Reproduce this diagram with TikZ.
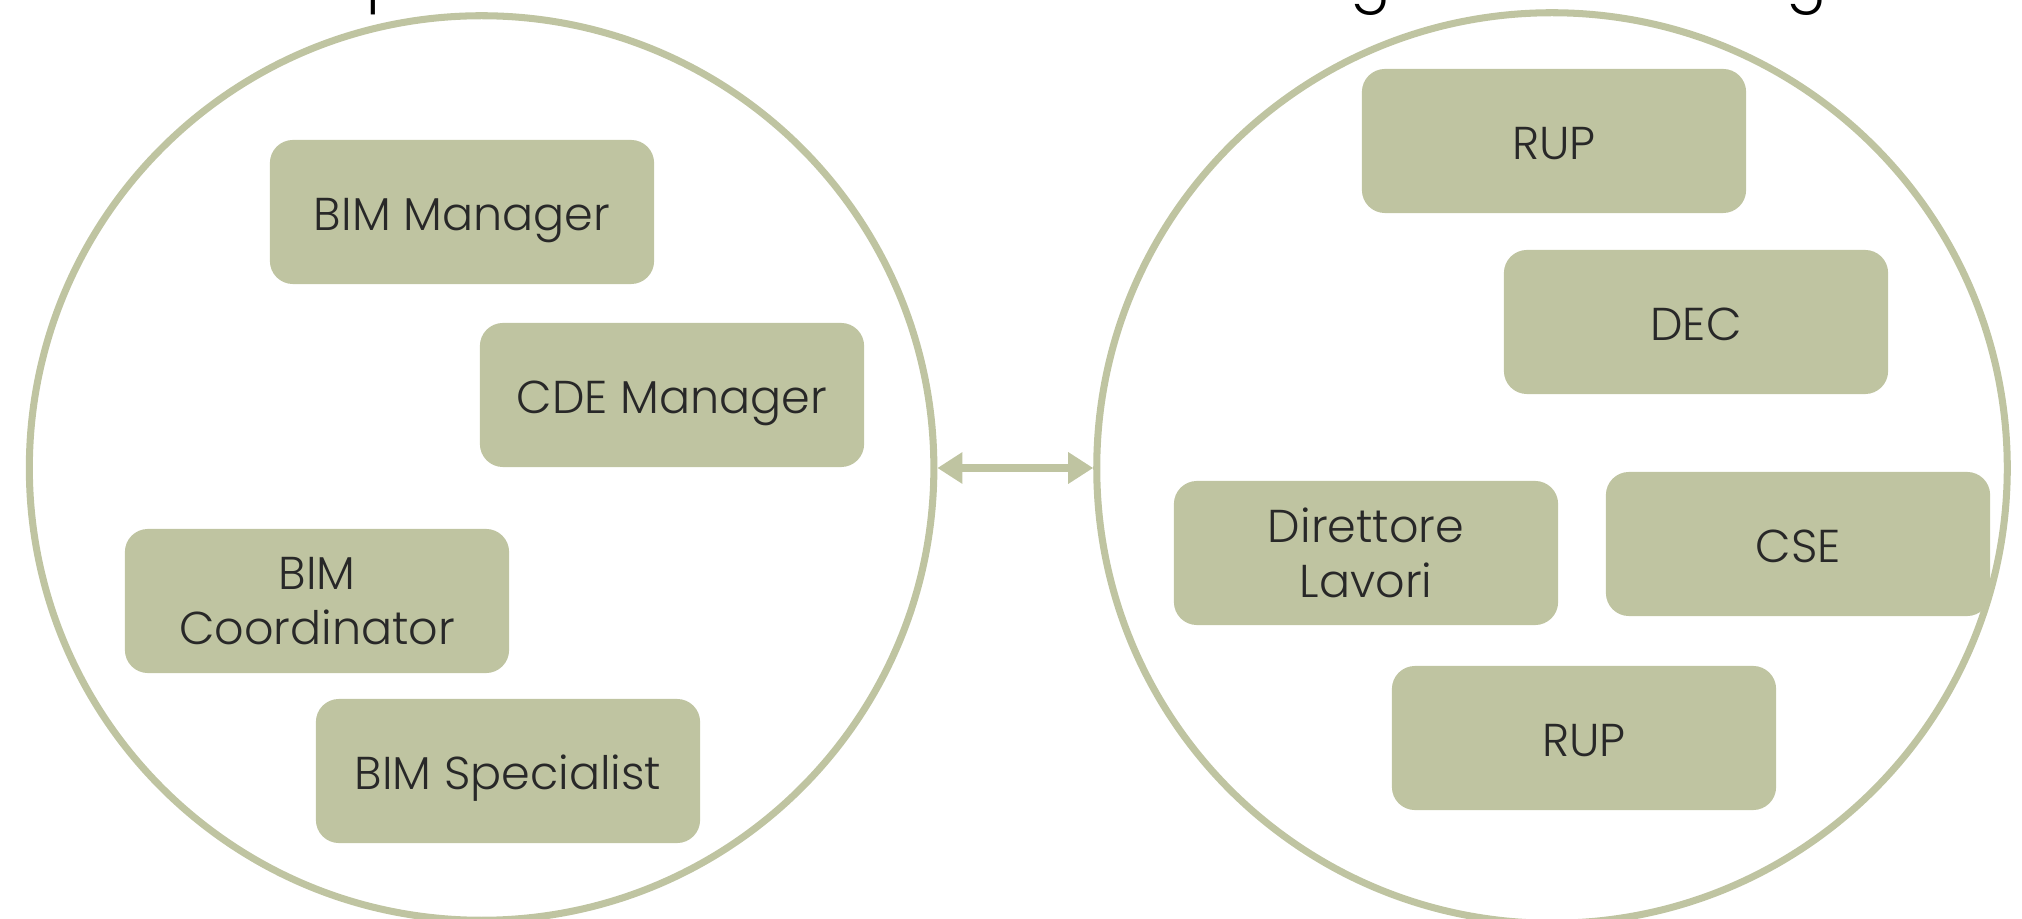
\documentclass[tikz,border=0pt]{standalone}
\usepackage{fontspec}
\setmainfont{Poppins}[UprightFont={* Light}]
\usetikzlibrary{arrows.meta}
\definecolor{sage}{RGB}{191,196,161}
\definecolor{txt}{RGB}{40,40,40}
\begin{document}
\begin{tikzpicture}[x=0.01cm,y=-0.01cm,
  rolebox/.style={fill=sage, rounded corners=0.23cm, minimum width=3.84cm, minimum height=1.44cm,
    inner sep=0pt, text=txt, align=center, font=\fontsize{13.1}{15.7}\selectfont,
    text height=11.6pt, text depth=0.8pt},
  twoline/.style={text height=, text depth=},
  ring/.style={circle, draw=sage, line width=2pt, inner sep=0pt},
  link/.style={draw=sage, line width=2pt,
    {Triangle[length=0.25cm,width=0.3cm]}-{Triangle[length=0.25cm,width=0.3cm]}},
  frag/.style={anchor=base west, inner sep=0pt, font=\fontsize{17}{20}\selectfont, text=black}]
\useasboundingbox (0,0) rectangle (2022,919);
\clip (0,0) rectangle (2022,919);
% cut-off title fragments
\node[frag] (t1) at (366,0) {p};
\node[frag] (t2) at (1350,0) {g};
\node[frag] (t3) at (1786,0) {g};
% rings
\node[ring, minimum size=9.04cm] (L) at (481.6,468) {};
\node[ring, minimum size=9.10cm] (R) at (1552,468) {};
\draw[link] (L.east) -- (R.west);
% left group
\node[rolebox] (bm) at (462,212) {BIM Manager};
\node[rolebox] (cm) at (672,395) {CDE Manager};
\node[rolebox, twoline] (bc) at (317,601) {BIM\\Coordinator};
\node[rolebox] (bs) at (508,771) {BIM Specialist};
% right group
\node[rolebox] (rup1) at (1554,141) {RUP};
\node[rolebox] (dec) at (1696,322) {DEC};
\node[rolebox, twoline] (dl) at (1366,553) {Direttore\\Lavori};
\node[rolebox] (cse) at (1798,544) {CSE};
\node[rolebox] (rup2) at (1584,738) {RUP};
\end{tikzpicture}
\end{document}
